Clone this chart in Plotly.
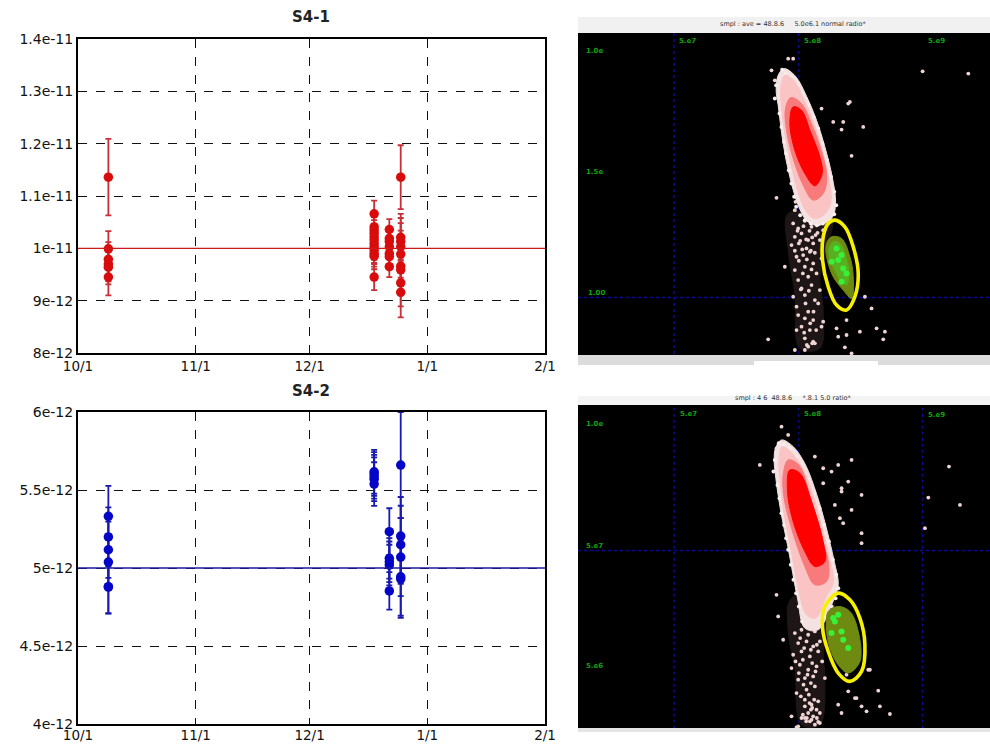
import plotly.graph_objects as go

W, H = 990, 744

# ---------- error-bar charts ----------
TICK_X = ["2012-10-01", "2012-11-01", "2012-12-01", "2013-01-01", "2013-02-01"]
TICK_X_TEXT = ["10/1", "11/1", "12/1", "1/1", "2/1"]

S1_TICKS = [8e-12, 9e-12, 1e-11, 1.1e-11, 1.2e-11, 1.3e-11, 1.4e-11]
S1_TICK_TEXT = ["8e-12", "9e-12", "1e-11", "1.1e-11", "1.2e-11", "1.3e-11", "1.4e-11"]
S2_TICKS = [4e-12, 4.5e-12, 5e-12, 5.5e-12, 6e-12]
S2_TICK_TEXT = ["4e-12", "4.5e-12", "5e-12", "5.5e-12", "6e-12"]

S1_DATES = ["2012-10-09"] * 6 + ["2012-12-18"] * 12 + ["2012-12-22"] * 7 + ["2012-12-25"] * 9
S1_VALUES = [11.36, 9.99, 9.79, 9.70, 9.64, 9.45,
             10.66, 10.41, 10.35, 10.29, 10.22, 10.16, 10.09, 10.03, 9.97, 9.90, 9.85, 9.45,
             10.36, 10.19, 10.13, 10.03, 9.90, 9.84, 9.65,
             11.36, 10.21, 10.13, 10.03, 9.89, 9.66, 9.59, 9.34, 9.16]
S1_ERRORS = [0.73, 0.34, 0.33, 0.33, 0.33, 0.35,
             0.25, 0.25, 0.25, 0.25, 0.25, 0.25, 0.25, 0.25, 0.25, 0.25, 0.25, 0.25,
             0.20, 0.20, 0.20, 0.20, 0.20, 0.20, 0.20,
             0.61, 0.45, 0.45, 0.45, 0.45, 0.45, 0.45, 0.45, 0.48]

S2_DATES = ["2012-10-09"] * 6 + ["2012-12-18"] * 5 + ["2012-12-22"] * 5 + ["2012-12-25"] * 6
S2_VALUES = [5.331, 5.199, 5.117, 5.038, 4.880, 4.878,
             5.617, 5.603, 5.585, 5.569, 5.538,
             5.233, 5.062, 5.040, 5.019, 4.853,
             5.660, 5.205, 5.149, 5.070, 4.944, 4.930]
S2_ERRORS = [0.195, 0.19, 0.18, 0.18, 0.17, 0.17,
             0.14, 0.14, 0.14, 0.14, 0.14,
             0.15, 0.13, 0.13, 0.13, 0.12,
             0.34, 0.25, 0.25, 0.25, 0.25, 0.25]

S1_REF = 1e-11
S2_REF = 5e-12

# ---------- cytometry panels (readings in panel units) ----------
A_PLUME_X = [640, 770, 760, 735, 745, 735, 675, 660, 640]
A_PLUME_Y = [610, 620, 700, 800, 900, 1015, 1015, 850, 720]
A_HALO_X = [628, 662, 695, 725, 750, 772, 782, 772, 735, 700, 672, 645, 625, 610, 604, 610]
A_HALO_Y = [175, 198, 258, 330, 410, 500, 580, 622, 645, 636, 590, 500, 400, 285, 240, 195]
A_PINK_X = [630, 658, 688, 718, 742, 762, 768, 750, 718, 692, 668, 650, 632, 620, 618]
A_PINK_Y = [195, 212, 268, 340, 420, 505, 575, 612, 625, 600, 540, 470, 380, 290, 230]
A_ROSE_X = [648, 680, 712, 742, 756, 745, 715, 685, 655, 635, 632]
A_ROSE_Y = [262, 280, 345, 430, 500, 550, 570, 525, 445, 360, 295]
A_CORE_X = [655, 680, 705, 735, 742, 720, 690, 660, 645]
A_CORE_Y = [290, 300, 360, 440, 490, 527, 490, 420, 340]
A_OLIVE_X = [770, 800, 825, 835, 830, 805, 775, 755, 755]
A_OLIVE_Y = [680, 685, 740, 800, 865, 840, 800, 740, 700]
A_GREEN_X = [775, 795, 815, 822, 815, 800, 780, 765, 762]
A_GREEN_Y = [695, 700, 750, 790, 825, 815, 780, 745, 715]
A_RING_X = [780, 810, 835, 850, 840, 815, 785, 760, 743, 745, 760, 780]
A_RING_Y = [630, 650, 710, 790, 860, 900, 885, 830, 750, 680, 640, 630]
A_SPECK_X = [655, 670, 690, 710, 730, 745, 660, 680, 700, 722, 650, 672, 695, 715, 735, 665, 685, 705,
             660, 690, 715, 740, 670, 700, 725, 680, 710, 735, 655, 690, 720, 665, 700, 730, 690, 715,
             745, 680, 705, 630, 690, 720, 665, 700, 740, 785, 815, 790, 815, 855, 905, 930, 925, 580,
             715, 690, 660, 810, 830, 870, 890, 605, 590, 600, 612, 640, 655, 740, 775, 805, 800, 825,
             865, 830, 1043, 1180, 620, 660, 662, 820,
             668, 686, 704, 728, 744, 676, 694, 712, 660, 682, 708, 672, 696, 720, 684, 710, 678, 702,
             692, 716, 670, 706, 688, 724, 712, 696]
A_SPECK_Y = [640, 655, 632, 650, 642, 660, 680, 670, 690, 675, 705, 700, 715, 700, 690, 740, 735, 725,
             780, 770, 760, 745, 810, 800, 790, 835, 825, 840, 860, 855, 870, 890, 905, 880, 925, 930,
             935, 950, 960, 770, 985, 1000, 960, 1010, 950, 955, 930, 980, 975, 965, 955, 965, 988, 988,
             995, 1020, 1020, 1012, 1030, 860, 895, 563, 180, 210, 260, 145, 145, 295, 335, 335, 358, 275,
             350, 437, 183, 190, 310, 600, 575, 280,
             662, 648, 662, 668, 635, 692, 688, 682, 722, 718, 722, 752, 748, 728, 790, 778, 838, 842,
             880, 905, 915, 940, 968, 960, 1000, 1005]
A_EDGE_X = [622, 632, 650, 668, 682, 700, 716, 730, 742, 756, 768, 778, 784, 778, 766, 600, 604, 614,
            620, 628, 634, 642, 650, 658, 664, 676, 690, 708, 726, 744]
A_EDGE_Y = [178, 190, 200, 225, 250, 285, 320, 355, 400, 450, 500, 545, 585, 612, 632, 265, 225, 310,
            350, 395, 430, 480, 520, 560, 590, 615, 630, 640, 645, 640]
A_BRIGHT_X = [785, 800, 790, 805, 770, 815, 800]
A_BRIGHT_Y = [715, 735, 750, 775, 755, 790, 815]
A_VLINE_X = [298, 672]
A_HLINE_Y = 862

B_PLUME_X = [650, 775, 760, 745, 750, 735, 680, 660, 640]
B_PLUME_Y = [640, 640, 730, 800, 880, 1020, 1020, 850, 740]
B_HALO_X = [620, 655, 692, 726, 752, 778, 790, 770, 730, 690, 668, 640, 618, 603, 598, 602]
B_HALO_Y = [165, 185, 240, 330, 420, 530, 600, 660, 735, 730, 640, 490, 380, 280, 225, 190]
B_PINK_X = [622, 652, 686, 718, 742, 766, 776, 752, 722, 695, 672, 648, 628, 616, 612]
B_PINK_Y = [185, 205, 255, 340, 430, 530, 590, 640, 700, 690, 620, 490, 390, 290, 230]
B_ROSE_X = [640, 672, 705, 740, 762, 755, 720, 690, 650, 628, 625]
B_ROSE_Y = [225, 240, 330, 460, 540, 590, 600, 545, 430, 340, 270]
B_CORE_X = [645, 675, 710, 745, 750, 720, 690, 655, 638]
B_CORE_Y = [255, 265, 350, 470, 530, 545, 500, 410, 320]
B_OLIVE_X = [760, 790, 825, 850, 855, 820, 790, 765, 755]
B_OLIVE_Y = [680, 665, 680, 740, 830, 865, 840, 790, 730]
B_RING_X = [790, 825, 855, 870, 860, 825, 790, 760, 743, 750, 790]
B_RING_Y = [625, 645, 700, 780, 860, 890, 865, 800, 730, 665, 625]
B_SPECK_X = [660, 680, 700, 720, 670, 695, 715, 735, 655, 680, 705, 730, 650, 675, 700, 725, 670, 690,
             715, 750, 665, 695, 720, 690, 710, 730, 700, 725, 680, 705, 715, 735, 650, 690, 720, 670,
             710, 735, 605, 610, 625, 800, 820, 845, 875, 910, 945, 915, 880, 815, 790, 860, 885, 840,
             720, 745, 770, 790, 800, 830, 860, 745, 780, 795, 805, 830, 860, 800, 820, 860, 1122, 1060,
             1155, 1050, 555, 620, 640, 605, 665, 730,
             676, 688, 708, 726, 742, 662, 684, 712, 672, 698, 722, 686, 708, 678, 702, 690, 712, 696,
             704, 718, 684, 726, 694, 708]
B_SPECK_Y = [745, 735, 750, 740, 775, 770, 785, 770, 810, 800, 815, 800, 850, 840, 855, 845, 885, 880,
             875, 880, 925, 915, 905, 945, 960, 950, 985, 975, 1000, 1010, 995, 985, 995, 1000, 1020, 1025,
             1005, 1015, 630, 695, 765, 985, 920, 940, 980, 918, 988, 965, 855, 870, 960, 965, 855, 940,
             215, 250, 260, 240, 320, 225, 330, 295, 360, 400, 415, 375, 445, 310, 290, 475, 245, 338, 360,
             430, 240, 125, 150, 190, 1028, 1012,
             760, 790, 795, 780, 830, 830, 825, 835, 865, 870, 860, 900, 895, 935, 930, 965, 970, 1000,
             955, 945, 990, 1000, 1010, 975]
B_EDGE_X = [612, 626, 644, 662, 680, 700, 718, 734, 748, 762, 774, 784, 790, 782, 770, 596, 600, 608,
            614, 620, 628, 634, 640, 648, 656, 664, 672, 682, 740, 752]
B_EDGE_Y = [175, 180, 190, 215, 240, 285, 325, 370, 420, 470, 525, 570, 610, 640, 665, 260, 225, 300,
            340, 385, 420, 460, 495, 540, 585, 625, 665, 710, 720, 695]
B_BRIGHT_X = [775, 790, 800, 780, 805, 820, 770]
B_BRIGHT_Y = [700, 690, 740, 710, 765, 790, 745]
B_VLINE_X = [298, 672, 1043]
B_HLINE_Y = 497

A_HEADER = "smpl : ave = 48.8.6     5.0e6.1 normal radio*"
B_HEADER = "smpl : 4 6  48.8.6     *.8.1 5.0 ratio*"
A_GREEN_LABELS = [("1.0e", 60, 122), ("1.5e", 60, 485), ("1.00", 65, 848),
                  ("5.e7", 338, 93), ("5.e8", 712, 93), ("5.e9", 1085, 93)]
B_GREEN_LABELS = [("1.0e", 58, 118), ("5.e7", 58, 482), ("5.e6", 60, 845),
                  ("5.e7", 340, 87), ("5.e8", 712, 87), ("5.e9", 1085, 90)]

fig = go.Figure()


def dx(a, b):
    return [a / W, b / W]


def dy(t, b):
    return [1 - b / H, 1 - t / H]


def err_trace(x, v, e, color, bar, ax):
    fig.add_trace(go.Scatter(
        x=x, y=[i * 1e-12 for i in v], mode="markers", xaxis=f"x{ax}", yaxis=f"y{ax}",
        marker=dict(color=color, size=9.5),
        error_y=dict(type="data", array=[i * 1e-12 for i in e], color=bar, thickness=1.8, width=3),
        showlegend=False, cliponaxis=True))


err_trace(S1_DATES, S1_VALUES, S1_ERRORS, "#d80c0c", "#c83038", 1)
err_trace(S2_DATES, S2_VALUES, S2_ERRORS, "#0505c8", "#1a1ab0", 2)


def poly(x, y, color, ax, spline=False):
    fig.add_trace(go.Scatter(x=x + x[:1], y=y + y[:1], mode="lines", fill="toself", fillcolor=color,
                             line=dict(color=color, width=1, shape="spline" if spline else "linear"),
                             xaxis=f"x{ax}", yaxis=f"y{ax}", showlegend=False, hoverinfo="skip"))


def dots(x, y, color, size, ax):
    fig.add_trace(go.Scatter(x=x, y=y, mode="markers", marker=dict(color=color, size=size, line=dict(width=0)),
                             xaxis=f"x{ax}", yaxis=f"y{ax}", showlegend=False, hoverinfo="skip"))


def panel(ax, vlines, hline, plume, speck_x, speck_y, edge_x, edge_y, halo, pink, rose, core, olive, green,
          ring, bright_x, bright_y):
    for v in vlines:
        fig.add_trace(go.Scatter(x=[v, v], y=[68, 1035], mode="lines", xaxis=f"x{ax}", yaxis=f"y{ax}",
                                 line=dict(color="#0a0a90", width=1.5, dash="dot"),
                                 showlegend=False, hoverinfo="skip"))
    fig.add_trace(go.Scatter(x=[10, 1245], y=[hline, hline], mode="lines", xaxis=f"x{ax}", yaxis=f"y{ax}",
                             line=dict(color="#0a0a90", width=1.5, dash="dot"),
                             showlegend=False, hoverinfo="skip"))
    poly(*plume, "#1e1616", ax, True)
    dots(speck_x, speck_y, "#efd4d4", 3.8, ax)
    poly(*halo, "#f4e2e2", ax, True)
    dots(edge_x, edge_y, "#f8ecec", 4, ax)
    poly(*pink, "#fbc4c4", ax, True)
    poly(*rose, "#f87a7a", ax, True)
    poly(*core, "#ff0000", ax, True)
    poly(*olive, "#6f8a10", ax, True)
    if green:
        poly(*green, "#58b020", ax, True)
    dots(bright_x, bright_y, "#38f038", 6, ax)
    fig.add_trace(go.Scatter(x=ring[0], y=ring[1], mode="lines", xaxis=f"x{ax}", yaxis=f"y{ax}",
                             line=dict(color="#f6f000", width=3.6, shape="spline"),
                             showlegend=False, hoverinfo="skip"))


panel(3, A_VLINE_X, A_HLINE_Y, (A_PLUME_X, A_PLUME_Y), A_SPECK_X, A_SPECK_Y, A_EDGE_X, A_EDGE_Y,
      (A_HALO_X, A_HALO_Y), (A_PINK_X, A_PINK_Y),
      (A_ROSE_X, A_ROSE_Y), (A_CORE_X, A_CORE_Y), (A_OLIVE_X, A_OLIVE_Y), (A_GREEN_X, A_GREEN_Y),
      (A_RING_X, A_RING_Y), A_BRIGHT_X, A_BRIGHT_Y)
panel(4, B_VLINE_X, B_HLINE_Y, (B_PLUME_X, B_PLUME_Y), B_SPECK_X, B_SPECK_Y, B_EDGE_X, B_EDGE_Y,
      (B_HALO_X, B_HALO_Y), (B_PINK_X, B_PINK_Y),
      (B_ROSE_X, B_ROSE_Y), (B_CORE_X, B_CORE_Y), (B_OLIVE_X, B_OLIVE_Y), None,
      (B_RING_X, B_RING_Y), B_BRIGHT_X, B_BRIGHT_Y)

FONT = "DejaVu Sans"
xbase = dict(range=["2012-10-01", "2013-02-01"], type="date", tickvals=TICK_X, ticktext=TICK_X_TEXT,
             showgrid=True, griddash="dash", gridcolor="#111111", gridwidth=1.3, automargin=False,
             showline=True, linecolor="black", linewidth=2, mirror=True, ticks="",
             tickfont=dict(family=FONT, size=13.5, color="#111111"), zeroline=False)
ybase = dict(showgrid=True, griddash="dash", gridcolor="#111111", gridwidth=1.3, automargin=False,
             showline=True, linecolor="black", linewidth=2, mirror=True, ticks="",
             tickfont=dict(family=FONT, size=14, color="#111111"), zeroline=False)
hidden = dict(visible=False, showgrid=False, zeroline=False)

P1 = (78, 545, 39, 353)
P2 = (78, 545, 412, 724)
P3 = (578, 990, 33, 355)
P4 = (578, 990, 405, 728)

fig.update_layout(
    width=W, height=H, autosize=False, margin=dict(l=0, r=0, t=0, b=0, autoexpand=False),
    paper_bgcolor="white", plot_bgcolor="white", showlegend=False,
    xaxis=dict(domain=dx(P1[0], P1[1]), anchor="y", **xbase),
    yaxis=dict(domain=dy(P1[2], P1[3]), anchor="x", range=[8e-12, 1.4e-11],
               tickvals=S1_TICKS, ticktext=S1_TICK_TEXT, **ybase),
    xaxis2=dict(domain=dx(P2[0], P2[1]), anchor="y2", ticklabelstandoff=-2, **xbase),
    yaxis2=dict(domain=dy(P2[2], P2[3]), anchor="x2", range=[4e-12, 6e-12],
                tickvals=S2_TICKS, ticktext=S2_TICK_TEXT, **ybase),
    xaxis3=dict(domain=dx(P3[0], P3[1]), anchor="y3", range=[10, 1245], **hidden),
    yaxis3=dict(domain=dy(P3[2], P3[3]), anchor="x3", range=[1035, 68], **hidden),
    xaxis4=dict(domain=dx(P4[0], P4[1]), anchor="y4", range=[10, 1245], **hidden),
    yaxis4=dict(domain=dy(P4[2], P4[3]), anchor="x4", range=[1030, 60], **hidden),
)

shapes = []
for (x0, x1, y0, y1, c) in [(578, 990, 33, 355, "black"), (578, 990, 405, 728, "black"),
                            (578, 990, 17, 33, "#f1f1f1"), (578, 990, 396, 405, "#f4f4f4"),
                            (578, 990, 355, 365, "#dcdcdc"), (754, 878, 361, 365, "#ffffff"),
                            (578, 990, 728, 732, "#e4e4e4")]:
    shapes.append(dict(type="rect", xref="paper", yref="paper", x0=x0 / W, x1=x1 / W,
                       y0=1 - y1 / H, y1=1 - y0 / H, fillcolor=c, line=dict(width=0), layer="below"))
# reference lines at the nominal value of each chart
shapes.append(dict(type="line", xref="x", yref="y", x0=TICK_X[0], x1=TICK_X[-1], y0=S1_REF, y1=S1_REF,
                   line=dict(color="#cc1a1a", width=1.4), layer="above"))
shapes.append(dict(type="line", xref="x2", yref="y2", x0=TICK_X[0], x1=TICK_X[-1], y0=S2_REF, y1=S2_REF,
                   line=dict(color="#1a1aa0", width=1.4), layer="above"))
fig.update_layout(shapes=shapes)

ann = []
for text, cx, cy in [("S4-1", 311, 17), ("S4-2", 311, 391)]:
    ann.append(dict(text=f"<b>{text}</b>", xref="paper", yref="paper", x=cx / W, y=1 - cy / H, showarrow=False,
                    xanchor="center", yanchor="middle", font=dict(family=FONT, size=15, color="#222222")))
for text, cx, cy in [(A_HEADER, 793, 24), (B_HEADER, 793, 398)]:
    ann.append(dict(text=text, xref="paper", yref="paper", x=cx / W, y=1 - cy / H, showarrow=False,
                    xanchor="center", yanchor="middle", font=dict(family=FONT, size=6.5, color="#333333")))
for labels, ax in [(A_GREEN_LABELS, 3), (B_GREEN_LABELS, 4)]:
    for text, px, py in labels:
        ann.append(dict(text=f"<b>{text}</b>", xref=f"x{ax}", yref=f"y{ax}", x=px, y=py, showarrow=False,
                        xanchor="center", yanchor="middle", font=dict(family=FONT, size=7, color="#12a012")))
fig.update_layout(annotations=ann)

fig.write_html("out.html", config={"displayModeBar": False},
               post_script="document.body.style.margin='0';document.body.style.overflow='hidden';")
